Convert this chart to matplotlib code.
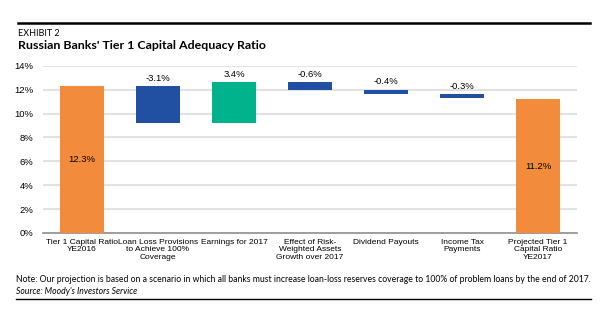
import matplotlib.pyplot as plt
from matplotlib.lines import Line2D

categories = [
    "Tier 1 Capital Ratio\nYE2016",
    "Loan Loss Provisions\nto Achieve 100%\nCoverage",
    "Earnings for 2017",
    "Effect of Risk-\nWeighted Assets\nGrowth over 2017",
    "Dividend Payouts",
    "Income Tax\nPayments",
    "Projected Tier 1\nCapital Ratio\nYE2017",
]
start_value = 12.3
changes = [-3.1, 3.4, -0.6, -0.4, -0.3]
end_value = 11.2
yticks = [0, 2, 4, 6, 8, 10, 12, 14]

ORANGE = "#F28C3C"
BLUE = "#2150A2"
GREEN = "#00B38D"

plt.rcParams["font.family"] = ["Liberation Sans", "DejaVu Sans"]
HEAD_FONT = ["Lato", "DejaVu Sans"]

fig = plt.figure(figsize=(6.09, 3.30), dpi=100)
ax = fig.add_axes([43 / 609, 1 - 233 / 330, 534 / 609, (233 - 65.7) / 330])

width = 0.579
# opening total
ax.bar(0, start_value, width=width, color=ORANGE, zorder=3)
ax.text(0, start_value / 2, f"{start_value:.1f}%", ha="center", va="center", fontsize=6.8, zorder=4)

# floating change bars
level = start_value
for i, d in enumerate(changes, start=1):
    bottom = level + min(d, 0)
    color = GREEN if d > 0 else BLUE
    ax.bar(i, abs(d), bottom=bottom, width=width, color=color, zorder=3)
    top = max(level, level + d)
    ax.annotate(f"{d:.1f}%", (i, top), xytext=(0, 2.5), textcoords="offset points",
                ha="center", va="bottom", fontsize=6.8)
    level += d

# closing total
n = len(categories) - 1
ax.bar(n, end_value, width=width, color=ORANGE, zorder=3)
ax.text(n, end_value / 2, f"{end_value:.1f}%", ha="center", va="center", fontsize=6.8, zorder=4)

ax.set_xlim(-0.513, n + 0.513)
ax.set_ylim(0, 14)
ax.set_yticks(yticks)
ax.set_yticklabels([f"{t}%" for t in yticks], fontsize=6.8)
ax.set_xticks(range(len(categories)))
ax.set_xticklabels(categories, fontsize=6.0, linespacing=1.12)
ax.tick_params(length=0, pad=4)
ax.tick_params(axis="y", pad=7)
ax.grid(axis="y", color="#E2E2E2", linewidth=1.5, zorder=0)
ax.yaxis.get_gridlines()[0].set_visible(False)
for s in ["top", "right", "left"]:
    ax.spines[s].set_visible(False)
ax.spines["bottom"].set_color("#8C8C8C")
ax.spines["bottom"].set_linewidth(1.2)

# header and footer
fig.add_artist(Line2D([18 / 609, 590 / 609], [1 - 22.5 / 330] * 2, color="black", linewidth=1.8))
fig.text(18 / 609, 1 - 33 / 330, "EXHIBIT 2", fontsize=6.5, family=HEAD_FONT, va="center")
fig.text(18 / 609, 1 - 45.5 / 330, "Russian Banks' Tier 1 Capital Adequacy Ratio",
         fontsize=8.9, family=HEAD_FONT, weight="bold", va="center")
fig.text(16 / 609, 1 - 279 / 330,
         "Note: Our projection is based on a scenario in which all banks must increase loan-loss "
         "reserves coverage to 100% of problem loans by the end of 2017.",
         fontsize=6.2, family=HEAD_FONT, va="center")
fig.text(16 / 609, 1 - 291 / 330, "Source: Moody's Investors Service",
         fontsize=6.2, family=HEAD_FONT, style="italic", va="center")
fig.add_artist(Line2D([16 / 609, 591 / 609], [1 - 299 / 330] * 2, color="black", linewidth=1.0))

fig.savefig("out.png", dpi=100)
